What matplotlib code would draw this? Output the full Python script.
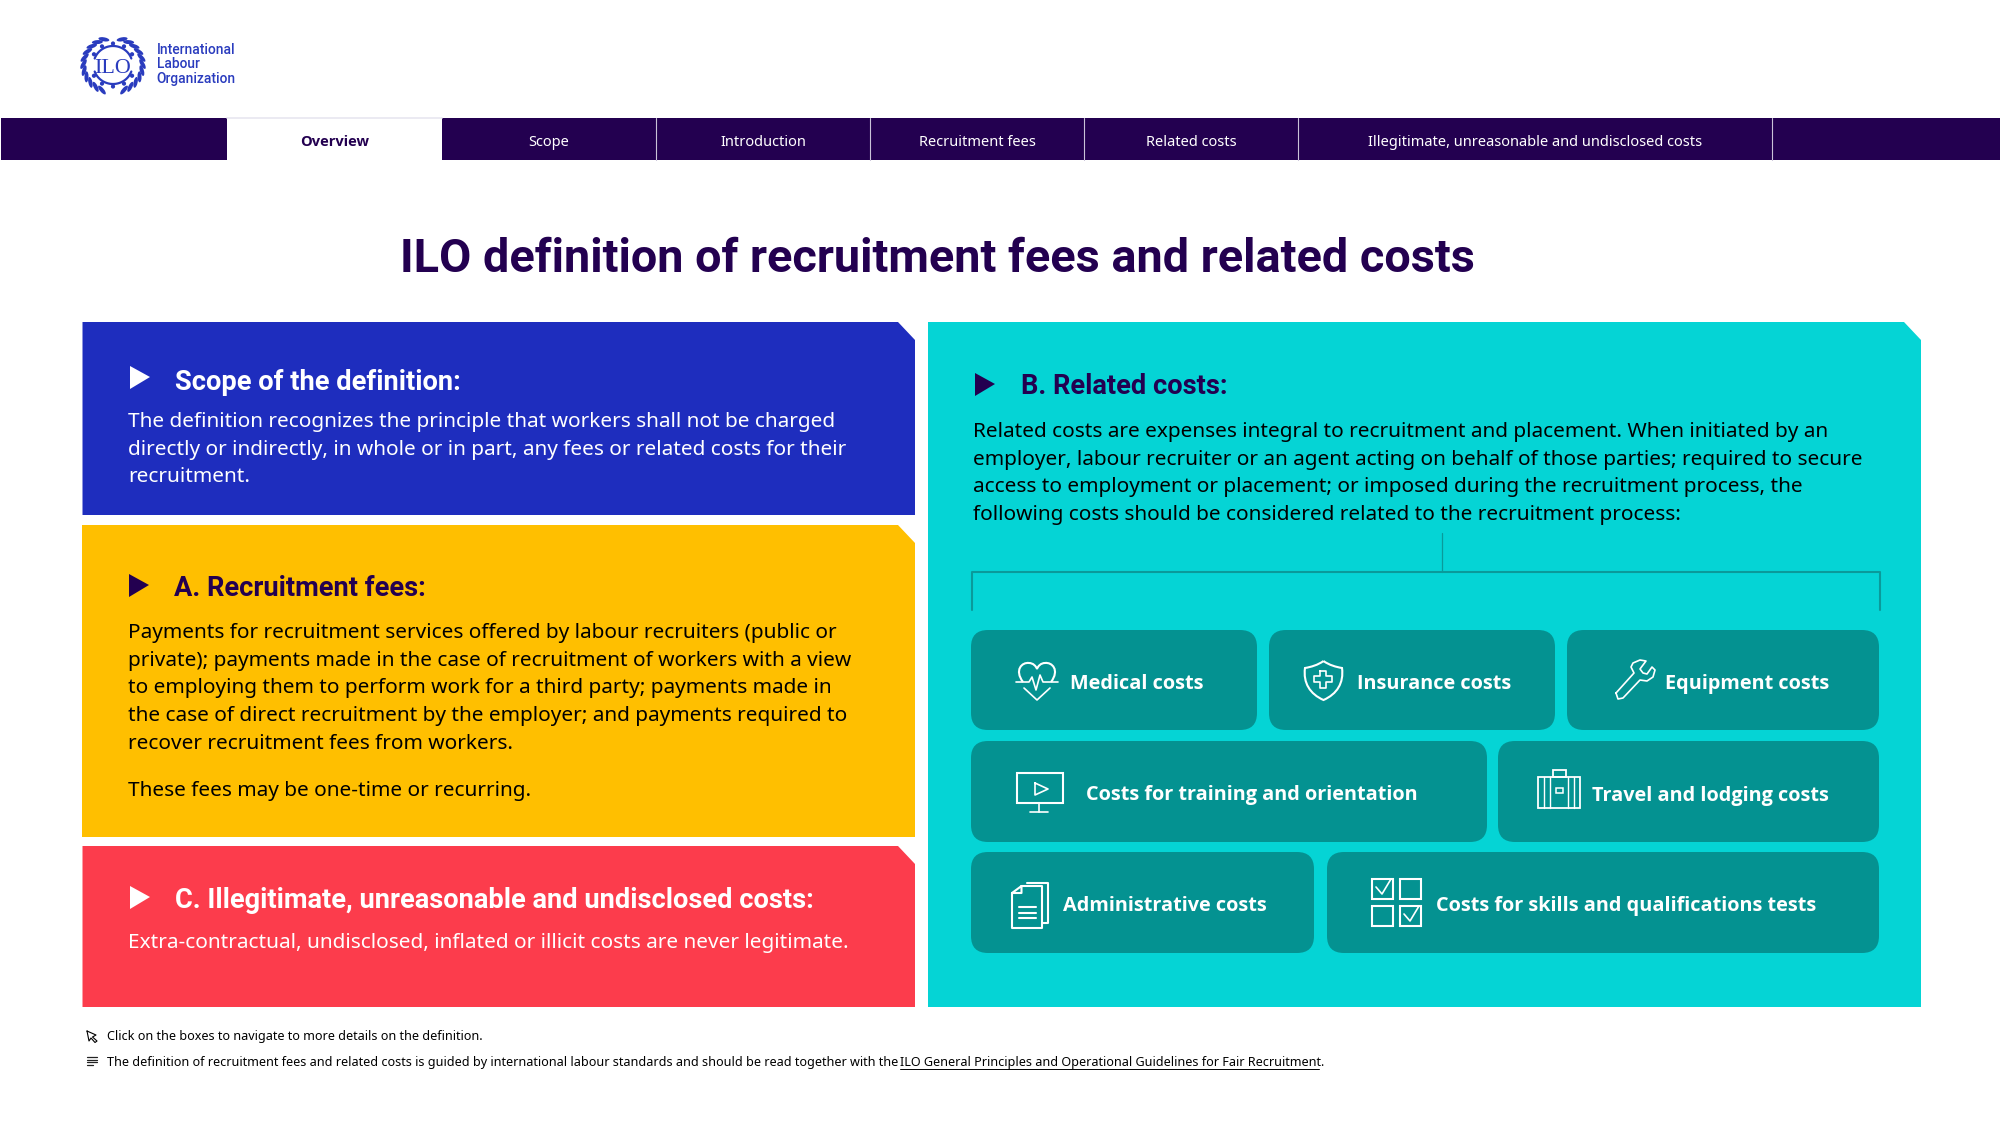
"""ILO definition of recruitment fees and related costs - overview slide."""

import numpy as np
import matplotlib
matplotlib.use('Agg')
import matplotlib.pyplot as plt
from matplotlib.patches import Polygon, FancyBboxPatch, Rectangle, Ellipse, PathPatch
from matplotlib.path import Path

# ── Content ───────────────────────────────────────────────
nav_labels = ['Overview', 'Scope', 'Introduction', 'Recruitment fees', 'Related costs',
              'Illegitimate, unreasonable and undisclosed costs']
nav_edges = [227, 442, 656, 870, 1084, 1298, 1772]

title = 'ILO definition of recruitment fees and related costs'
logo_lines = ['International', 'Labour', 'Organization']

scope_head = 'Scope of the definition:'
scope_body = ['The definition recognizes the principle that workers shall not be charged',
              'directly or indirectly, in whole or in part, any fees or related costs for their',
              'recruitment.']
fees_head = 'A. Recruitment fees:'
fees_body = ['Payments for recruitment services offered by labour recruiters (public or',
             'private); payments made in the case of recruitment of workers with a view',
             'to employing them to perform work for a third party; payments made in',
             'the case of direct recruitment by the employer; and payments required to',
             'recover recruitment fees from workers.']
fees_note = 'These fees may be one-time or recurring.'
illegit_head = 'C. Illegitimate, unreasonable and undisclosed costs:'
illegit_body = 'Extra-contractual, undisclosed, inflated or illicit costs are never legitimate.'
related_head = 'B. Related costs:'
related_body = ['Related costs are expenses integral to recruitment and placement. When initiated by an',
                'employer, labour recruiter or an agent acting on behalf of those parties; required to secure',
                'access to employment or placement; or imposed during the recruitment process, the',
                'following costs should be considered related to the recruitment process:']

card_labels = ['Medical costs', 'Insurance costs', 'Equipment costs',
               'Costs for training and orientation', 'Travel and lodging costs',
               'Administrative costs', 'Costs for skills and qualifications tests']

foot_click = 'Click on the boxes to navigate to more details on the definition.'
foot_note = ('The definition of recruitment fees and related costs is guided by international '
             'labour standards and should be read together with the')
foot_link = 'ILO General Principles and Operational Guidelines for Fair Recruitment'

# ── Colours ───────────────────────────────────────────────
PURPLE = '#230050'
BLUE = '#1E2DBE'
YELLOW = '#FFBF00'
RED = '#FC3C4C'
TEAL = '#05D4D5'
CARD = '#049291'
LOGO = '#2A3CBE'

HEAD_FONT = 'Roboto'
BODY_FONT = 'Noto Sans'
BOLD_FONT = 'Open Sans'

# canvas in reference pixels, y pointing down
fig = plt.figure(figsize=(20, 11.25), dpi=100)
ax = fig.add_axes([0, 0, 1, 1])
ax.set_xlim(0, 2000)
ax.set_ylim(1125, 0)
ax.axis('off')


def px(size):
    """Font size in points from a size in pixels."""
    return size * 0.72


def line(xs, ys, color='white', lw=1.2, **kw):
    ax.plot(xs, ys, color=color, lw=lw, solid_capstyle='round', solid_joinstyle='round', **kw)


def panel(x0, y0, x1, y1, color):
    """Box with the top right corner cut off."""
    ax.add_patch(Polygon([(x0, y0), (x1 - 17, y0), (x1, y0 + 18), (x1, y1), (x0, y1)],
                         closed=True, fc=color, ec='none'))


def heading(x, y, tx, ty, s, color):
    """Triangle bullet (y near its bottom) and heading with baseline ty."""
    ax.add_patch(Polygon([(x, y - 21), (x + 20, y - 10), (x, y + 2)], closed=True, fc=color, ec='none'))
    ax.text(tx, ty, s, color=color, family=HEAD_FONT, weight='bold', fontsize=px(27.2), va='baseline')


def body(x, ys, lines, color):
    for y, s in zip(ys, lines):
        ax.text(x, y, s, color=color, family=BODY_FONT, fontsize=px(20.82), va='baseline')


def card(x0, y0, x1, y1, tx, ty, s):
    ax.add_patch(FancyBboxPatch((x0, y0), x1 - x0, y1 - y0, boxstyle='round,pad=0,rounding_size=17',
                                fc=CARD, ec='none'))
    ax.text(tx, ty, s, color='white', family=BOLD_FONT, weight='bold', fontsize=px(19.9), va='baseline')


def bezier(verts, codes, lw=1.5):
    ax.add_patch(PathPatch(Path(verts, codes), fc='none', ec='white', lw=lw))


# ── Logo ──────────────────────────────────────────────────
def draw_logo(cx, cy):
    # wreath leaves, both sides
    for side in (-1, 1):
        for deg in np.arange(-72, 80, 14):
            a = np.radians(deg)
            x = cx + side * 29.5 * np.cos(a)
            y = cy + 27 * np.sin(a)
            ax.add_patch(Ellipse((x, y), 11, 4, angle=side * (deg + 62), fc=LOGO, ec='none'))
    # gear ring with teeth, open at the sides
    for a0, a1 in ((200, 340), (20, 160)):
        t = np.radians(np.linspace(a0, a1, 40))
        line(cx + 19.5 * np.cos(t), cy + 19 * np.sin(t), color=LOGO, lw=1.6)
    for deg in np.arange(0, 360, 30):
        if deg % 180 == 0:
            continue
        a = np.radians(deg)
        ax.add_patch(Ellipse((cx + 22 * np.cos(a), cy + 21.5 * np.sin(a)), 4.2, 4.2, fc=LOGO, ec='none'))
    ax.text(cx, cy + 8, 'ILO', color=LOGO, family='Liberation Serif', fontsize=px(22), ha='center', va='baseline')


draw_logo(113, 65)
for y, s in zip([54, 68, 83], logo_lines):
    ax.text(156.5, y, s, color=LOGO, family='Roboto', weight='medium', fontsize=px(13.8), va='baseline')

# ── Navigation bar ────────────────────────────────────────
ax.add_patch(Rectangle((1, 118), 1999, 42, fc=PURPLE, ec='none'))
ax.add_patch(Rectangle((227, 117), 215, 43.5, fc='white', ec='none'))
line([227, 442], [118, 118], color='#E8E6F0', lw=1.2)
for x in nav_edges[2:]:
    line([x, x], [118, 160], color='#C9C2D8', lw=0.8)
for i, s in enumerate(nav_labels):
    xc = (nav_edges[i] + nav_edges[i + 1]) / 2
    ax.text(xc, 146, s, ha='center', va='baseline', fontsize=px(14.6),
            family=BOLD_FONT if i == 0 else BODY_FONT,
            color=PURPLE if i == 0 else 'white', weight='bold' if i == 0 else 'normal')

ax.text(400, 272, title, color=PURPLE, family=HEAD_FONT, weight='bold', fontsize=px(46.9), va='baseline')

# ── Left column ───────────────────────────────────────────
panel(82.5, 322, 915, 515, BLUE)
heading(130, 387, 175, 389.5, scope_head, 'white')
body(128, [427, 455, 482], scope_body, 'white')

panel(82, 525, 915, 837, YELLOW)
heading(129, 595, 174, 596, fees_head, PURPLE)
body(127.5, [638, 666, 693, 721, 749, 796], fees_body + [fees_note], 'black')

panel(82.5, 846, 915, 1007, RED)
heading(130, 907, 175, 908, illegit_head, 'white')
body(128, [948], [illegit_body], 'white')

# ── Right column ──────────────────────────────────────────
panel(928, 322, 1921, 1007, TEAL)
heading(975, 394, 1021, 394, related_head, PURPLE)
body(973, [437, 465, 492, 520], related_body, 'black')

# bracket above the cards
line([1442, 1442], [533, 572], color='#0A9A9A', lw=0.9)
line([971.5, 971.5, 1880, 1880], [610, 572, 572, 610], color='#0A9A9A', lw=1.5)

card(971, 630, 1257, 730, 1070.5, 689, card_labels[0])
card(1269, 630, 1555, 730, 1357, 689, card_labels[1])
card(1567, 630, 1879, 730, 1665, 689, card_labels[2])
card(971, 741, 1487, 842, 1086, 800, card_labels[3])
card(1498, 741, 1879, 842, 1592, 801, card_labels[4])
card(971, 852, 1314, 953, 1063, 911, card_labels[5])
card(1327, 852, 1879, 953, 1436.5, 911, card_labels[6])

M, L, C = Path.MOVETO, Path.LINETO, Path.CURVE4

# heart with pulse
bezier([(1023, 682), (1014, 670), (1022, 662), (1029, 663), (1033, 663), (1036, 666), (1037, 669),
        (1038, 666), (1041, 663), (1045, 663), (1052, 662), (1060, 670), (1051, 682)],
       [M, C, C, C, C, C, C, C, C, C, C, C, C])
line([1024, 1037, 1050], [688, 700, 688])
line([1016, 1029, 1032, 1036, 1040, 1043, 1058], [682, 682, 677, 690, 675, 682, 682])

# shield with cross
bezier([(1323.5, 661), (1318, 665), (1311, 667), (1305, 668), (1303, 683), (1310, 694), (1323.5, 700),
        (1337, 694), (1344, 683), (1342, 668), (1336, 667), (1329, 665), (1323.5, 661)],
       [M, C, C, C, C, C, C, C, C, C, C, C, C])
line([1320, 1326, 1326, 1332, 1332, 1326, 1326, 1320, 1320, 1314, 1314, 1320, 1320],
     [671, 671, 676, 676, 682, 682, 688, 688, 682, 682, 676, 676, 671])

# wrench
line([1616, 1634, 1631, 1633, 1640, 1646, 1640, 1643, 1647, 1652, 1655, 1653, 1647, 1640, 1623, 1618, 1616],
     [693, 673, 667, 663, 660, 661, 669, 673, 674, 667, 670, 677, 681, 680, 698, 699, 693])

# monitor with play button
ax.add_patch(Rectangle((1017, 773), 46, 30, fc='none', ec='white', lw=1.5))
line([1035, 1048, 1035, 1035], [783, 789, 795, 783])
line([1039, 1039], [803, 812])
line([1030, 1048], [812, 812])

# suitcase
ax.add_patch(Rectangle((1538, 777), 42, 31, fc='none', ec='white', lw=1.3))
ax.add_patch(Rectangle((1553, 770), 13, 7, fc='none', ec='white', lw=1.3))
ax.add_patch(Rectangle((1556, 788), 7, 5, fc='none', ec='white', lw=1.1))
for x in (1544, 1550, 1568, 1574):
    line([x, x], [777, 808], lw=1.0)

# document stack
line([1021.5, 1042, 1042, 1012, 1012, 1021.5, 1021.5, 1012], [886, 886, 928, 928, 893, 886, 893, 893], lw=1.5)
line([1027, 1048, 1048, 1042], [883, 883, 923, 923], lw=1.5)
for y in (907, 913, 918):
    line([1018.5, 1036], [y, y], lw=1.5)

# check boxes
for x0, y0 in ((1372, 879), (1400, 879), (1372, 906), (1400, 906)):
    ax.add_patch(Rectangle((x0, y0), 21, 20, fc='none', ec='white', lw=1.5))
line([1376, 1382, 1391], [887, 894, 879])
line([1404, 1410, 1419], [914, 921, 906])

# ── Footer ────────────────────────────────────────────────
line([87, 96, 92.5, 97, 95, 91, 89, 87], [1031, 1035, 1037, 1041, 1042.5, 1038, 1041, 1031], color='black', lw=0.8)
for y, x1 in ((1057, 97), (1059.5, 97), (1062, 97), (1064.5, 93)):
    line([86.5, x1], [y, y], color='#222222', lw=0.9)

ax.text(107, 1040, foot_click, color='black', family=BODY_FONT, fontsize=px(12.62), va='baseline')
ax.text(107, 1066, foot_note, color='black', family=BODY_FONT, fontsize=px(12.6), va='baseline')
ax.text(900, 1066, foot_link + '.', color='black', family=BODY_FONT, fontsize=px(12.6), va='baseline')
line([900, 1319], [1068.5, 1068.5], color='black', lw=0.7)

fig.savefig('out.png', dpi=100, facecolor='white')
